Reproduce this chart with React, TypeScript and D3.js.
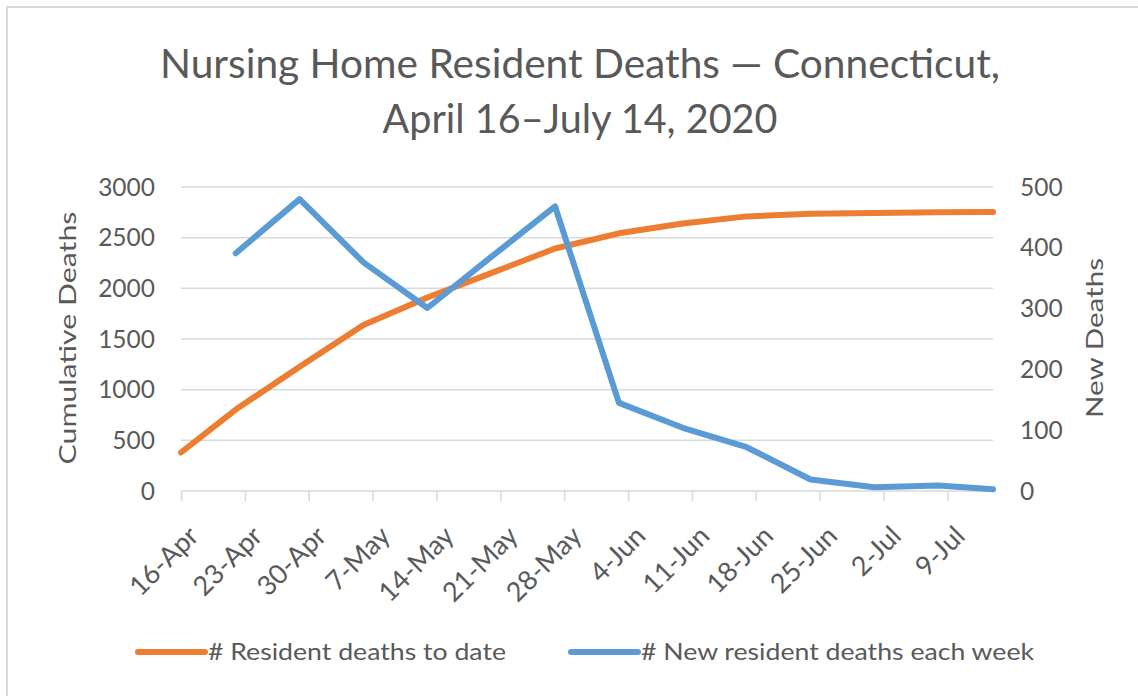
import React, { useEffect, useRef } from 'react';
import * as d3 from 'd3';

// Weekly nursing home resident deaths, Connecticut.
const dates = [
  '2020-04-16', '2020-04-22', '2020-04-29', '2020-05-06', '2020-05-13', '2020-05-20', '2020-05-27',
  '2020-06-03', '2020-06-10', '2020-06-17', '2020-06-24', '2020-07-01', '2020-07-08', '2020-07-14',
];
const cumulativeDeaths = [380, 804, 1226, 1639, 1910, 2150, 2393, 2543, 2640, 2710, 2737, 2743, 2750, 2753];
const newDeaths = [null, 391, 480, 376, 301, 385, 468, 145, 104, 72, 19, 6, 9, 3];
const leftTicks = [0, 500, 1000, 1500, 2000, 2500, 3000];
const rightTicks = [0, 100, 200, 300, 400, 500];
const titleLines = ['Nursing Home Resident Deaths — Connecticut,', 'April 16–July 14, 2020'];
const seriesNames = ['# Resident deaths to date', '# New resident deaths each week'];

const W = 1138;
const H = 696;
const LEFT = 181;
const RIGHT = 993;
const TOP = 187;
const BOTTOM = 491;
const ORANGE = '#ED7D31';
const BLUE = '#5B9BD5';
const TEXT = '#595959';
const GRID = '#D9D9D9';
const FONT = 'Lato, "Open Sans", sans-serif';

const App = () => {
  const svgRef = useRef<SVGSVGElement>(null);

  useEffect(() => {
    const svg = d3.select(svgRef.current);
    svg.selectAll('*').remove();
    svg.append('rect').attr('width', W).attr('height', H).attr('fill', 'white');
    // chart area border (only top/left edges are inside the frame)
    svg
      .append('rect')
      .attr('x', 7)
      .attr('y', 7)
      .attr('width', W + 20)
      .attr('height', H + 20)
      .attr('fill', 'none')
      .attr('stroke', GRID)
      .attr('stroke-width', 2);

    const parse = d3.timeParse('%Y-%m-%d');
    const pts = dates.map((d, i) => ({ date: parse(d)!, cum: cumulativeDeaths[i], nw: newDeaths[i] }));

    const x = d3.scaleTime().domain([pts[0].date, pts[pts.length - 1].date]).range([LEFT, RIGHT]);
    const yL = d3.scaleLinear().domain([0, 3000]).range([BOTTOM, TOP]);
    const yR = d3.scaleLinear().domain([0, 500]).range([BOTTOM, TOP]);

    // Title
    svg
      .append('g')
      .selectAll('text')
      .data(titleLines)
      .enter()
      .append('text')
      .attr('x', 580)
      .attr('y', (_, i) => 78 + i * 55)
      .attr('text-anchor', 'middle')
      .attr('font-family', FONT)
      .attr('font-size', '40px')
      .attr('fill', TEXT)
      .attr('textLength', (_, i) => (i === 0 ? 840 : 395))
      .attr('lengthAdjust', 'spacingAndGlyphs')
      .text((d) => d);

    // Gridlines
    svg
      .append('g')
      .selectAll('line')
      .data(leftTicks.slice(1))
      .enter()
      .append('line')
      .attr('x1', LEFT)
      .attr('x2', RIGHT)
      .attr('y1', (d) => yL(d))
      .attr('y2', (d) => yL(d))
      .attr('stroke', GRID)
      .attr('stroke-width', 1.5);

    // X axis
    const weekTicks = d3.timeThursday.range(pts[0].date, pts[pts.length - 1].date);
    const xAxis = svg
      .append('g')
      .attr('transform', `translate(0,${BOTTOM})`)
      .call(
        d3
          .axisBottom(x)
          .tickValues(weekTicks)
          .tickSize(10)
          .tickFormat((d) => d3.timeFormat('%-d-%b')(d as Date)),
      );
    xAxis.select('.domain').attr('stroke', GRID).attr('stroke-width', 1.5).attr('d', `M${LEFT},0H${RIGHT}`);
    xAxis.selectAll('.tick line').attr('stroke', GRID).attr('stroke-width', 1.5);
    xAxis
      .selectAll('.tick text')
      .attr('x', 0)
      .attr('y', 0)
      .attr('dy', '0.35em')
      .attr('font-family', FONT)
      .attr('font-size', '27px')
      .attr('fill', TEXT)
      .attr('text-anchor', 'end')
      .attr('transform', 'translate(12,40) rotate(-45)');

    // Left axis labels
    svg
      .append('g')
      .selectAll('text')
      .data(leftTicks)
      .enter()
      .append('text')
      .attr('x', 155)
      .attr('y', (d) => yL(d))
      .attr('dy', '0.35em')
      .attr('text-anchor', 'end')
      .attr('font-family', FONT)
      .attr('font-size', '24.5px')
      .attr('fill', TEXT)
      .text((d) => d);

    // Right axis labels
    svg
      .append('g')
      .selectAll('text')
      .data(rightTicks)
      .enter()
      .append('text')
      .attr('x', 1020)
      .attr('y', (d) => yR(d))
      .attr('dy', '0.35em')
      .attr('text-anchor', 'start')
      .attr('font-family', FONT)
      .attr('font-size', '24.5px')
      .attr('fill', TEXT)
      .text((d) => d);

    // Axis titles
    const axisTitle = (label: string, cx: number, len: number) =>
      svg
        .append('text')
        .attr('transform', `translate(${cx},338) rotate(-90)`)
        .attr('text-anchor', 'middle')
        .attr('dy', '0.35em')
        .attr('font-family', FONT)
        .attr('font-size', '24px')
        .attr('fill', TEXT)
        .attr('textLength', len)
        .attr('lengthAdjust', 'spacingAndGlyphs')
        .text(label);
    axisTitle('Cumulative Deaths', 68, 253);
    axisTitle('New Deaths', 1095, 160);

    // Lines
    const cumLine = d3
      .line<(typeof pts)[number]>()
      .x((d) => x(d.date))
      .y((d) => yL(d.cum));
    const newLine = d3
      .line<(typeof pts)[number]>()
      .defined((d) => d.nw != null)
      .x((d) => x(d.date))
      .y((d) => yR(d.nw as number));

    svg
      .append('path')
      .datum(pts)
      .attr('fill', 'none')
      .attr('stroke', ORANGE)
      .attr('stroke-width', 6)
      .attr('stroke-linecap', 'round')
      .attr('stroke-linejoin', 'round')
      .attr('d', cumLine);
    svg
      .append('path')
      .datum(pts)
      .attr('fill', 'none')
      .attr('stroke', BLUE)
      .attr('stroke-width', 6)
      .attr('stroke-linecap', 'round')
      .attr('stroke-linejoin', 'round')
      .attr('d', newLine);

    // Legend
    const legend = [
      { name: seriesNames[0], color: ORANGE, x0: 138, x1: 205, tx: 208, len: 298 },
      { name: seriesNames[1], color: BLUE, x0: 571, x1: 638, tx: 641, len: 393 },
    ];
    const lg = svg.append('g').selectAll('g').data(legend).enter().append('g');
    lg.append('line')
      .attr('x1', (d) => d.x0)
      .attr('x2', (d) => d.x1)
      .attr('y1', 652)
      .attr('y2', 652)
      .attr('stroke', (d) => d.color)
      .attr('stroke-width', 6)
      .attr('stroke-linecap', 'round');
    lg.append('text')
      .attr('x', (d) => d.tx)
      .attr('y', 652)
      .attr('dy', '0.35em')
      .attr('font-family', FONT)
      .attr('font-size', '23px')
      .attr('fill', TEXT)
      .attr('textLength', (d) => d.len)
      .attr('lengthAdjust', 'spacingAndGlyphs')
      .text((d) => d.name);
  }, []);

  return (
    <svg
      ref={svgRef}
      width={W}
      height={H}
      style={{ position: 'absolute', left: 0, top: 0, display: 'block' }}
    />
  );
};

export default App;
